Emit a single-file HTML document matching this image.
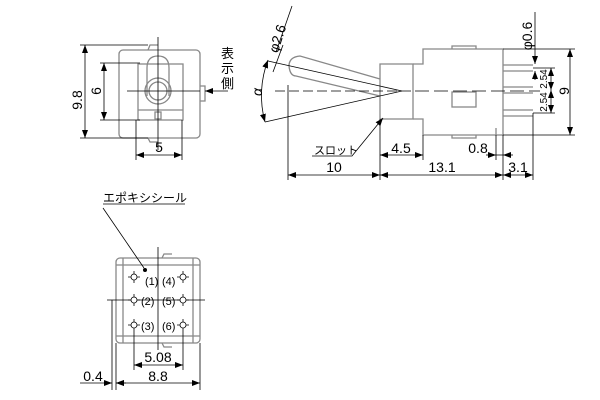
<!DOCTYPE html>
<html><head><meta charset="utf-8"><style>body{margin:0;background:#fff}svg{display:block}text{font-family:"Liberation Sans","Noto Sans CJK JP",sans-serif;fill:#000}</style></head><body>
<svg width="600" height="400" viewBox="0 0 600 400" xmlns="http://www.w3.org/2000/svg">
<defs><marker id="a" markerWidth="8" markerHeight="6" refX="8" refY="3" orient="auto-start-reverse" markerUnits="userSpaceOnUse"><path d="M0,0L8,3L0,6z" fill="#000"/></marker></defs>
<g fill="none" stroke="#888" stroke-width="1.3">
<rect x="119" y="50" width="81" height="88" rx="4"/>
<rect x="138" y="64" width="45" height="56"/>
<path d="M147,96 L147,68 Q147,56 158,56 Q169,56 169,68 L169,96"/>
<circle cx="158" cy="91" r="13"/><circle cx="158" cy="91" r="9"/>
<rect x="155" y="112" width="6" height="7"/>
<path d="M138,110 L183,110 M200,86 L205,86 L205,101 L200,101"/>
<path d="M148,50 L150,45 L158,45 M148,138 L150,142 L158,142"/>
<path d="M380,64 L413,64 L413,119 L380,119 Z"/>
<path d="M413,64 L423,64 L423,49 L503,49 L503,135 L423,135 L423,119 L413,119"/>
<path d="M452,49 L452,46 L476,46 L476,49 M452,135 L452,138 L476,138 L476,135"/>
<rect x="452" y="92" width="24" height="15"/>
<path d="M503,65 L533,65 M503,71 L533,71 M503,87 L533,87 M503,93 L533,93 M503,110 L533,110 M503,116 L533,116 M496,128 L496,135"/>
<path d="M380,79 L300,56 Q289,57 289,66 Q290,76 296,76 L380,96"/>
<rect x="116" y="258" width="84" height="85" rx="4"/>
<path d="M123,258 L123,343 M193,258 L193,343 M116,265 L200,265 M116,336 L200,336"/>
<path d="M162,258 L164,254 L172,254 M162,343 L164,347 L172,347"/>
</g>
<g fill="none" stroke="#000" stroke-width="0.8">
<path d="M158,37 L158,150 M127,91 L200,91"/>
<path d="M80,45 L148,45 M80,138 L148,138 M100,63 L140,63 M100,120 L140,120 M136,120 L136,160 M182,120 L182,160"/>
<path d="M85,45 L85,138" marker-start="url(#a)" marker-end="url(#a)"/>
<path d="M104,63 L104,120" marker-start="url(#a)" marker-end="url(#a)"/>
<path d="M136,155 L182,155" marker-start="url(#a)" marker-end="url(#a)"/>
<path d="M228,91 L205,91" marker-end="url(#a)"/>
<path d="M275,91 L415,91" stroke-dasharray="10,4"/>
<path d="M415,91 L540,91" stroke-dasharray="14,5"/>
<path d="M402,91 L268,61 M402,91 L265,122 M288,85 L288,180 M380,119 L380,180 M423,135 L423,160 M503,135 L503,180 M496,135 L496,160 M533,113 L533,180 M503,49 L575,49 M503,135 L575,135 M533,68 L555,68 M533,113 L555,113"/>
<path d="M268,60 A100,100 0 0 0 265,122" marker-start="url(#a)" marker-end="url(#a)"/>
<path d="M288,175 L380,175" marker-start="url(#a)" marker-end="url(#a)"/>
<path d="M380,175 L503,175" marker-start="url(#a)" marker-end="url(#a)"/>
<path d="M503,175 L533,175" marker-start="url(#a)" marker-end="url(#a)"/>
<path d="M380,155 L423,155" marker-start="url(#a)" marker-end="url(#a)"/>
<path d="M486,155 L496,155" marker-end="url(#a)"/><path d="M513,155 L503,155" marker-end="url(#a)"/><path d="M496,155 L503,155"/>
<path d="M570,49 L570,135" marker-start="url(#a)" marker-end="url(#a)"/>
<path d="M551,68 L551,90" marker-start="url(#a)" marker-end="url(#a)"/>
<path d="M551,90 L551,113" marker-start="url(#a)" marker-end="url(#a)"/>
<path d="M535,12 L535,64" marker-end="url(#a)"/><path d="M535,80 L535,71" marker-end="url(#a)"/>
<path d="M276,52 L292,6 M273,72 L283,45"/>
<path d="M312,156 L352,156 L383,118" marker-end="url(#a)"/>
<path d="M158,247 L158,350 M107,300 L205,300"/>
<path d="M128,277 L140,277 M134,271 L134,283 M128,300 L140,300 M134,294 L134,306 M128,325 L140,325 M134,319 L134,331 M177,277 L189,277 M183,271 L183,283 M177,300 L189,300 M183,294 L183,306 M177,325 L189,325 M183,319 L183,331"/>
<path d="M134,331 L134,370 M183,331 L183,370 M112,300 L112,390 M116,343 L116,390 M200,343 L200,390"/>
<path d="M134,365 L183,365" marker-start="url(#a)" marker-end="url(#a)"/>
<path d="M116,383 L200,383" marker-start="url(#a)" marker-end="url(#a)"/>
<path d="M80,383 L112,383" marker-end="url(#a)"/><path d="M126,383 L116,383" marker-end="url(#a)"/>
<path d="M103,204 L185,204 M103,208 L144,268"/>
</g>
<g fill="#fff" stroke="#000" stroke-width="0.8"><circle cx="134" cy="277" r="3"/><circle cx="134" cy="300" r="3"/><circle cx="134" cy="325" r="3"/><circle cx="183" cy="277" r="3"/><circle cx="183" cy="300" r="3"/><circle cx="183" cy="325" r="3"/></g>
<circle cx="145" cy="270" r="2" fill="#000"/>
<g font-size="14">
<text x="82" y="100" transform="rotate(-90 82 100)" text-anchor="middle">9.8</text>
<text x="101" y="91" transform="rotate(-90 101 91)" text-anchor="middle">6</text>
<text x="159" y="152" text-anchor="middle">5</text>
<text x="221" y="58" font-size="13">表</text><text x="221" y="73" font-size="13">示</text><text x="221" y="88" font-size="13">側</text>
<text x="282" y="40" transform="rotate(-72 282 40)" text-anchor="middle">φ2.6</text>
<text x="262" y="92" transform="rotate(-90 262 92)" text-anchor="middle" font-style="italic">α</text>
<text x="334" y="172" text-anchor="middle">10</text>
<text x="442" y="172" text-anchor="middle">13.1</text>
<text x="518" y="172" text-anchor="middle">3.1</text>
<text x="401" y="153" text-anchor="middle">4.5</text>
<text x="478" y="153" text-anchor="middle">0.8</text>
<text x="532" y="36" transform="rotate(-90 532 36)" text-anchor="middle">φ0.6</text>
<text x="569" y="91" transform="rotate(-90 569 91)" text-anchor="middle">9</text>
<text x="547" y="79" transform="rotate(-90 547 79)" text-anchor="middle" font-size="10">2.54</text>
<text x="547" y="102" transform="rotate(-90 547 102)" text-anchor="middle" font-size="10">2.54</text>
<text x="314" y="154" font-size="11">スロット</text>
<text x="103" y="202" font-size="12">エポキシシール</text>
<text x="158" y="362" text-anchor="middle">5.08</text>
<text x="158" y="381" text-anchor="middle">8.8</text>
<text x="93" y="381" text-anchor="middle">0.4</text>
</g>
<g font-size="11"><text x="145" y="285">(1)</text><text x="162" y="285">(4)</text><text x="141" y="305">(2)</text><text x="162" y="305">(5)</text><text x="141" y="330">(3)</text><text x="162" y="330">(6)</text></g>
</svg>
</body></html>
